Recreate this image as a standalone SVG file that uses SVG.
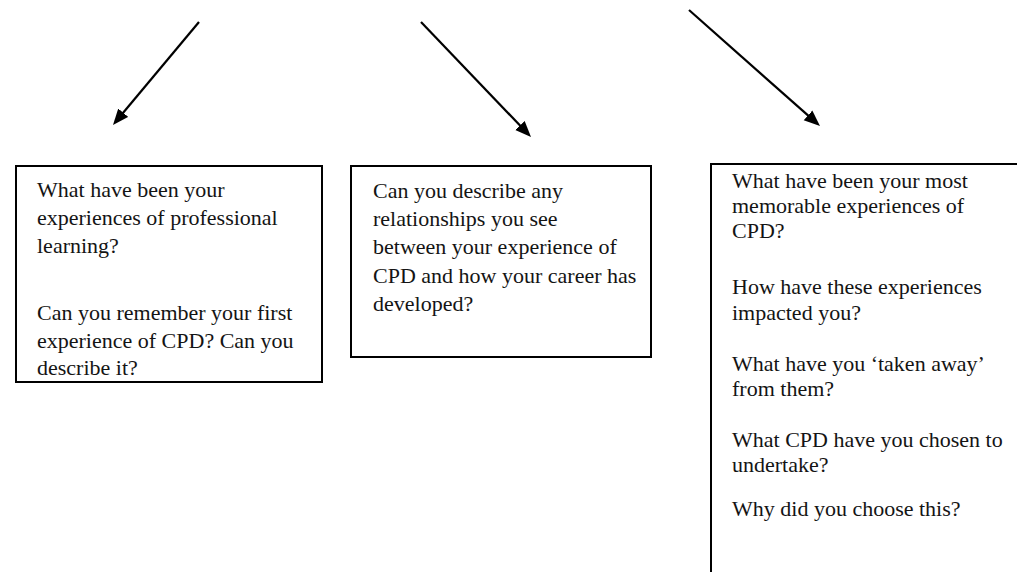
<svg xmlns="http://www.w3.org/2000/svg" width="1017" height="572" viewBox="0 0 1017 572">
  <style>
    .box { fill: #ffffff; stroke: #000000; stroke-width: 2; }
    .q { font-family: "Liberation Serif", "Times New Roman", serif; font-size: 22px; fill: #141414; }
    .link { stroke: #000000; stroke-width: 2.2; fill: none; marker-end: url(#head); }
  </style>
  <defs>
    <marker id="head" markerUnits="userSpaceOnUse" markerWidth="17" markerHeight="14" refX="6" refY="7" orient="auto">
      <path d="M0,0.5 L16,7 L0,13.5 z" fill="#000000"/>
    </marker>
  </defs>
  <rect width="1017" height="572" fill="#ffffff"/>

  <!-- connectors -->
  <g id="connectors">
    <line class="link" x1="199" y1="22" x2="119.4" y2="117.3"/>
    <line class="link" x1="421" y1="22" x2="524.1" y2="129.8"/>
    <line class="link" x1="689" y1="10" x2="812.5" y2="119.4"/>
  </g>

  <!-- left question box -->
  <g id="node-experiences">
    <rect class="box" x="16" y="166" width="306" height="216"/>
    <text class="q">
      <tspan x="37" y="197">What have been your</tspan>
      <tspan x="37" y="225">experiences of professional</tspan>
      <tspan x="37" y="253">learning?</tspan>
      <tspan x="37" y="320">Can you remember your first</tspan>
      <tspan x="37" y="348">experience of CPD? Can you</tspan>
      <tspan x="37" y="375">describe it?</tspan>
    </text>
  </g>

  <!-- middle question box -->
  <g id="node-career">
    <rect class="box" x="351" y="166" width="300" height="191"/>
    <text class="q">
      <tspan x="373" y="198">Can you describe any</tspan>
      <tspan x="373" y="226">relationships you see</tspan>
      <tspan x="373" y="254">between your experience of</tspan>
      <tspan x="373" y="283">CPD and how your career has</tspan>
      <tspan x="373" y="311">developed?</tspan>
    </text>
  </g>

  <!-- right question box (runs past the page edge) -->
  <g id="node-memorable">
    <rect class="box" x="711" y="164" width="330" height="440"/>
    <text class="q">
      <tspan x="732" y="188">What have been your most</tspan>
      <tspan x="732" y="213">memorable experiences of</tspan>
      <tspan x="732" y="238">CPD?</tspan>
      <tspan x="732" y="294">How have these experiences</tspan>
      <tspan x="732" y="320">impacted you?</tspan>
      <tspan x="732" y="371">What have you ‘taken away’</tspan>
      <tspan x="732" y="396">from them?</tspan>
      <tspan x="732" y="447">What CPD have you chosen to</tspan>
      <tspan x="732" y="472">undertake?</tspan>
      <tspan x="732" y="516">Why did you choose this?</tspan>
    </text>
  </g>
</svg>
